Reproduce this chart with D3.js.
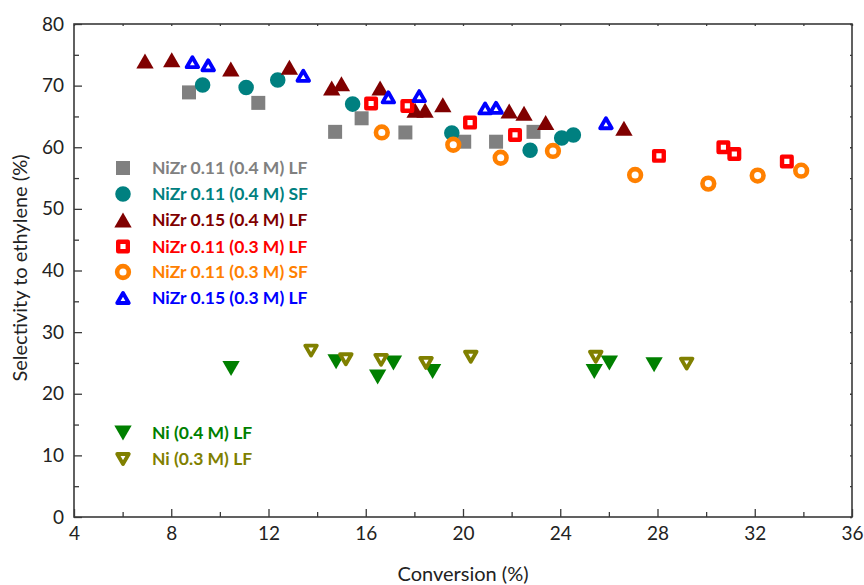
<!DOCTYPE html>
<html>
<head>
<meta charset="utf-8">
<script src="https://cdn.jsdelivr.net/npm/d3@7"></script>
<style>
  body { margin: 0; background: #fff; }
  svg text { font-family: Lato, "Open Sans", sans-serif; }
</style>
</head>
<body>
<svg id="chart" width="864" height="585"></svg>
<script>
// series values (conversion %, selectivity %)
var grayX = [8.73, 11.58, 14.74, 15.83, 17.63, 20.05, 21.36, 22.9];
var grayY = [68.9, 67.2, 62.5, 64.7, 62.4, 60.9, 60.9, 62.5];
var tealX = [9.29, 11.08, 12.38, 15.46, 19.54, 22.76, 24.06, 24.54];
var tealY = [70.1, 69.7, 70.9, 67.0, 62.3, 59.5, 61.5, 62.0];
var maroonX = [6.92, 8.02, 10.45, 12.86, 14.6, 15.0, 16.59, 18.03, 18.44, 19.17, 21.9, 22.51, 23.4, 26.62];
var maroonY = [74.0, 74.2, 72.7, 73.0, 69.6, 70.3, 69.6, 66.0, 66.0, 66.9, 65.9, 65.5, 64.0, 63.1];
var redX = [16.22, 17.71, 20.29, 22.14, 28.06, 30.71, 31.16, 33.32];
var redY = [67.1, 66.7, 64.0, 62.0, 58.6, 60.0, 58.9, 57.7];
var orangeX = [16.66, 19.6, 21.55, 23.7, 27.08, 30.09, 32.12, 33.91];
var orangeY = [62.4, 60.4, 58.3, 59.4, 55.5, 54.1, 55.4, 56.2];
var blueX = [8.87, 9.52, 13.43, 16.93, 18.2, 20.91, 21.36, 25.88];
var blueY = [73.8, 73.3, 71.6, 68.1, 68.3, 66.3, 66.4, 63.9];
var greenX = [10.46, 14.78, 16.49, 17.14, 18.75, 25.4, 26.02, 27.86];
var greenY = [24.1, 25.2, 22.7, 25.0, 23.6, 23.6, 25.0, 24.7];
var oliveX = [13.75, 15.18, 16.63, 18.48, 20.32, 25.46, 29.2];
var oliveY = [27.0, 25.6, 25.5, 25.0, 26.0, 26.0, 24.9];

var seriesNames = ["NiZr 0.11 (0.4 M) LF", "NiZr 0.11 (0.4 M) SF", "NiZr 0.15 (0.4 M) LF",
                   "NiZr 0.11 (0.3 M) LF", "NiZr 0.11 (0.3 M) SF", "NiZr 0.15 (0.3 M) LF",
                   "Ni (0.4 M) LF", "Ni (0.3 M) LF"];
var xTicks = [4, 8, 12, 16, 20, 24, 28, 32, 36];
var yTicks = [0, 10, 20, 30, 40, 50, 60, 70, 80];

// triangle centred on its bounding box (like the plotting program)
function triangle(up) {
    return {
        draw: function (ctx, size) {
            var s = Math.sqrt(size * 4 / Math.sqrt(3));
            var h = s * Math.sqrt(3) / 2;
            var d = up ? 1 : -1;
            ctx.moveTo(0, -d * h / 2);
            ctx.lineTo(s / 2, d * h / 2);
            ctx.lineTo(-s / 2, d * h / 2);
            ctx.closePath();
        }
    };
}

var series = [
    {name: seriesNames[0], xs: grayX, ys: grayY, color: "#808080", type: d3.symbolSquare, size: 196, sw: 0},
    {name: seriesNames[1], xs: tealX, ys: tealY, color: "#008080", type: d3.symbolCircle, size: 190, sw: 0},
    {name: seriesNames[2], xs: maroonX, ys: maroonY, color: "#800000", type: triangle(true), size: 130, sw: 0},
    {name: seriesNames[3], xs: redX, ys: redY, color: "#ff0000", type: d3.symbolSquare, size: 92, sw: 4.4},
    {name: seriesNames[4], xs: orangeX, ys: orangeY, color: "#ff8000", type: d3.symbolCircle, size: 108, sw: 4.6},
    {name: seriesNames[5], xs: blueX, ys: blueY, color: "#0000ff", type: triangle(true), size: 58, sw: 3.8},
    {name: seriesNames[6], xs: greenX, ys: greenY, color: "#008000", type: triangle(false), size: 130, sw: 0},
    {name: seriesNames[7], xs: oliveX, ys: oliveY, color: "#808000", type: triangle(false), size: 58, sw: 3.8}
];

var svg = d3.select("#chart");
var plotL = 74, plotR = 852, plotT = 24, plotB = 517;

var x = d3.scaleLinear().domain([4, 36]).range([plotL, plotR]);
var y = d3.scaleLinear().domain([0, 80]).range([plotB, plotT]);

var axisColor = "#3a3a3a";

function styleAxis(g) {
    g.select(".domain").remove();
    g.selectAll(".tick line").attr("stroke", axisColor).attr("stroke-width", 1.3);
    g.selectAll(".tick text").attr("fill", "#222").style("font-size", "19px");
}

// bottom axis, majors + minors
svg.append("g").attr("transform", "translate(0," + plotB + ")")
    .call(d3.axisBottom(x).tickValues(xTicks).tickSize(-8).tickPadding(10).tickFormat(d3.format("d")))
    .call(styleAxis);
svg.append("g").attr("transform", "translate(0," + plotB + ")")
    .call(d3.axisBottom(x).tickValues(d3.range(6, 36, 4)).tickSize(-5).tickFormat(""))
    .call(styleAxis);

// left axis
svg.append("g").attr("transform", "translate(" + plotL + ",0)")
    .call(d3.axisLeft(y).tickValues(yTicks).tickSize(-8).tickPadding(10).tickFormat(d3.format("d")))
    .call(styleAxis);
svg.append("g").attr("transform", "translate(" + plotL + ",0)")
    .call(d3.axisLeft(y).tickValues(d3.range(5, 80, 10)).tickSize(-5).tickFormat(""))
    .call(styleAxis);

// top and right: tiny ticks only
svg.append("g").attr("transform", "translate(0," + plotT + ")")
    .call(d3.axisTop(x).tickValues(d3.range(4, 37, 2)).tickSize(-2).tickFormat(""))
    .call(styleAxis);
svg.append("g").attr("transform", "translate(" + plotR + ",0)")
    .call(d3.axisRight(y).tickValues(d3.range(0, 81, 5)).tickSize(-2).tickFormat(""))
    .call(styleAxis);

// frame
svg.append("rect")
    .attr("x", plotL).attr("y", plotT)
    .attr("width", plotR - plotL).attr("height", plotB - plotT)
    .attr("fill", "none").attr("stroke", axisColor).attr("stroke-width", 1.6);

// axis titles
svg.append("text")
    .attr("x", (plotL + plotR) / 2).attr("y", 581)
    .attr("text-anchor", "middle")
    .style("font-size", "20px").attr("fill", "#222")
    .text("Conversion (%)");
svg.append("text")
    .attr("transform", "translate(27,268) rotate(-90)")
    .attr("text-anchor", "middle")
    .style("font-size", "20px").attr("fill", "#222")
    .text("Selectivity to ethylene (%)");

function drawMarker(sel, s) {
    sel.attr("d", d3.symbol().type(s.type).size(s.size)())
        .attr("fill", s.sw ? "#fff" : s.color)
        .attr("stroke", s.sw ? s.color : "none")
        .attr("stroke-width", s.sw)
        .attr("stroke-linejoin", "round");
}

// points
series.forEach(function (s) {
    var pts = s.xs.map(function (v, i) { return {x: v, y: s.ys[i]}; });
    svg.append("g").selectAll("path")
        .data(pts)
        .enter().append("path")
        .attr("transform", function (d) { return "translate(" + x(d.x) + "," + y(d.y) + ")"; })
        .call(drawMarker, s);
});

// legends
var legendRows = [168, 194, 220, 246.5, 272, 298, 433, 459];
series.forEach(function (s, i) {
    var g = svg.append("g").attr("transform", "translate(123," + legendRows[i] + ")");
    g.append("path").call(drawMarker, s);
    g.append("text")
        .attr("x", 29).attr("y", 0)
        .attr("dy", "0.36em")
        .style("font-size", "17.5px").style("font-weight", "bold")
        .attr("fill", s.color)
        .text(s.name);
});
</script>
</body>
</html>
